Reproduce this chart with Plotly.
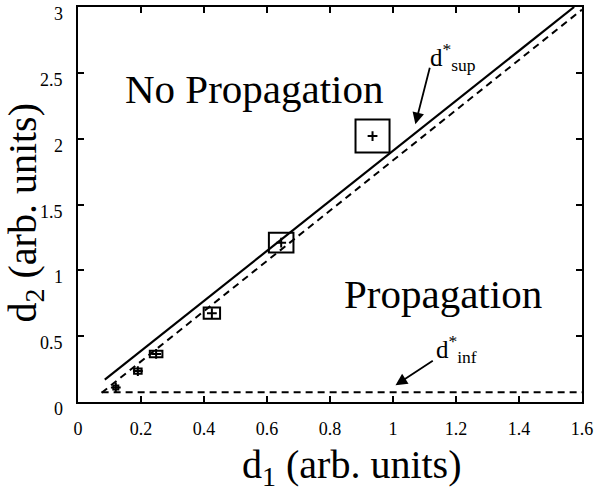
import plotly.graph_objects as go

# data
d1_pts = [0.12, 0.19, 0.248, 0.425, 0.645, 0.935]
d2_pts = [0.11, 0.235, 0.365, 0.675, 1.21, 2.02]
err_d1 = [0.008, 0.012, 0.02, 0.026, 0.039, 0.054]
err_d2 = [0.015, 0.02, 0.025, 0.042, 0.075, 0.125]

sup_x = [0.085, 1.575]
sup_y = [0.17, 3.0]
fit_x = [0.075, 1.6]
fit_y = [0.07, 2.98]
inf_x = [0.075, 1.6]
inf_y = [0.075, 0.075]

x_ticks = [0, 0.2, 0.4, 0.6, 0.8, 1, 1.2, 1.4, 1.6]
y_ticks = [0, 0.5, 1, 1.5, 2, 2.5, 3]
y_tick_text = ["0", "0.5", "1", "1.5", "2", "2.5", "3"]

FONT = "Liberation Serif"

fig = go.Figure()
fig.add_trace(go.Scatter(x=sup_x, y=sup_y, mode="lines",
                         line=dict(color="black", width=2.2), showlegend=False))
fig.add_trace(go.Scatter(x=fit_x, y=fit_y, mode="lines",
                         line=dict(color="black", width=2, dash="7px,5px"), showlegend=False))
fig.add_trace(go.Scatter(x=inf_x, y=inf_y, mode="lines",
                         line=dict(color="black", width=2, dash="7px,5px"), showlegend=False))
fig.add_trace(go.Scatter(x=d1_pts, y=d2_pts, mode="markers",
                         marker=dict(symbol="cross-thin", size=7, line=dict(color="black", width=2)),
                         showlegend=False))

for cx, cy, ex, ey in zip(d1_pts, d2_pts, err_d1, err_d2):
    fig.add_shape(type="rect", xref="x", yref="y",
                  x0=cx - ex, x1=cx + ex, y0=cy - ey, y1=cy + ey,
                  line=dict(color="black", width=2))

fig.add_annotation(x=0.56, y=2.38, text="No Propagation", showarrow=False,
                   font=dict(family=FONT, size=41, color="black"))
fig.add_annotation(x=1.16, y=0.82, text="Propagation", showarrow=False,
                   font=dict(family=FONT, size=41, color="black"))

fig.add_annotation(x=1.19, y=2.62, text="d<sup>*</sup><sub>sup</sub>", showarrow=False,
                   font=dict(family=FONT, size=25, color="black"))
fig.add_annotation(x=1.071, y=2.11, ax=1.118, ay=2.55, axref="x", ayref="y",
                   text="", showarrow=True, arrowhead=2, arrowsize=1.3,
                   arrowwidth=1.8, arrowcolor="black", standoff=0)
fig.add_annotation(x=1.20, y=0.40, text="d<sup>*</sup><sub>inf</sub>", showarrow=False,
                   font=dict(family=FONT, size=25, color="black"))
fig.add_annotation(x=1.008, y=0.128, ax=1.131, ay=0.32, axref="x", ayref="y",
                   text="", showarrow=True, arrowhead=2, arrowsize=1.3,
                   arrowwidth=1.8, arrowcolor="black", standoff=0)

# y tick labels (drawn slightly below their ticks, as in the reference)
for v, t in zip(y_ticks, y_tick_text):
    fig.add_annotation(x=0, y=v, xref="paper", yref="y", text=t, showarrow=False,
                       xanchor="right", yanchor="middle", xshift=-13, yshift=-7,
                       font=dict(family=FONT, size=18, color="black"))

# axis titles
fig.add_annotation(x=0.5, y=0, xref="paper", yref="paper", xanchor="center", yanchor="top",
                   xshift=22, yshift=-38, showarrow=False,
                   text="d<sub>1</sub> (arb. units)",
                   font=dict(family=FONT, size=40, color="black"))
fig.add_annotation(x=0, y=0.5, xref="paper", yref="paper", xanchor="center", yanchor="middle",
                   xshift=-54, yshift=-8, showarrow=False, textangle=-90,
                   text="d<sub>2</sub> (arb. units)",
                   font=dict(family=FONT, size=40, color="black"))

axis_common = dict(showgrid=False, zeroline=False, showline=True, linecolor="black",
                   linewidth=2, mirror="ticks", ticks="inside", ticklen=6,
                   tickwidth=1.5, tickcolor="black")

fig.update_xaxes(range=[0, 1.6], tickvals=x_ticks, ticktext=[str(v) for v in x_ticks],
                 tickfont=dict(family=FONT, size=18, color="black"),
                 ticklabelstandoff=9, **axis_common)
fig.update_yaxes(range=[0, 3], tickvals=y_ticks, showticklabels=False, **axis_common)

fig.update_layout(width=598, height=495, margin=dict(l=78, r=12, t=5, b=93),
                  plot_bgcolor="white", paper_bgcolor="white")

fig.write_html("out.html")
